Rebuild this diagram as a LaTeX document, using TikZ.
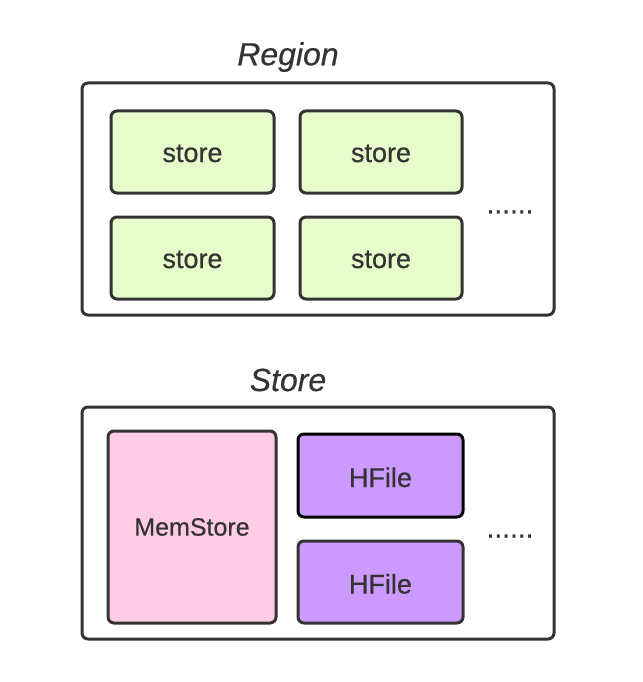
\documentclass[tikz,border=0pt]{standalone}
\usepackage{fontspec}
\setmainfont{Liberation Sans}[FakeBold=0.4]
\newfontfamily\medfont{Liberation Sans}[FakeBold=0.5]
\definecolor{edge}{HTML}{333333}
\definecolor{storegreen}{HTML}{E6FCCB}
\definecolor{mempink}{HTML}{FFCCE6}
\definecolor{hfpurple}{HTML}{CC99FF}
\definecolor{txt}{HTML}{333333}
\begin{document}
\begin{tikzpicture}[x=1pt,y=-1pt,
  outerbox/.style={draw=edge,line width=3pt,rounded corners=6pt,fill=white},
  storebox/.style={draw=edge,line width=3pt,rounded corners=6pt,fill=storegreen,text=txt,font=\medfont\fontsize{27}{30}\selectfont,text height=20pt,text depth=0pt},
  membox/.style={draw=edge,line width=3pt,rounded corners=6pt,fill=mempink,text=txt,font=\medfont\fontsize{25}{28}\selectfont},
  hfbox/.style={draw=edge,line width=3pt,rounded corners=6pt,fill=hfpurple,text=txt,font=\medfont\fontsize{27}{30}\selectfont,text height=23pt,text depth=0pt},
  titletext/.style={text=txt,font=\medfont\fontsize{32}{36}\selectfont\itshape},
  dotstext/.style={text=txt,font=\medfont\fontsize{28}{30}\selectfont}]
\useasboundingbox (0,0) rectangle (642,682);
% Region
\node[titletext] (rtitle) at (288,57) {Region};
\draw[outerbox] (82,83) rectangle (554,315);
\node[storebox,minimum width=163pt,minimum height=82pt] (s1) at (192.5,152) {store};
\node[storebox,minimum width=162pt,minimum height=82pt] (s2) at (381,152) {store};
\node[storebox,minimum width=163pt,minimum height=82pt] (s3) at (192.5,258) {store};
\node[storebox,minimum width=162pt,minimum height=82pt] (s4) at (381,258) {store};
\node[dotstext] (rdots) at (510,212) {......};
% Store
\node[titletext] (stitle) at (288,380) {Store};
\draw[outerbox] (82,407) rectangle (554,639);
\node[membox,minimum width=168pt,minimum height=192pt] (mem) at (192,527) {MemStore};
\node[hfbox,draw=black,minimum width=165pt,minimum height=83pt] (h1) at (380.5,475.5) {HFile};
\node[hfbox,minimum width=165pt,minimum height=82pt] (h2) at (380.5,582) {HFile};
\node[dotstext] (sdots) at (510,536) {......};
\end{tikzpicture}
\end{document}
